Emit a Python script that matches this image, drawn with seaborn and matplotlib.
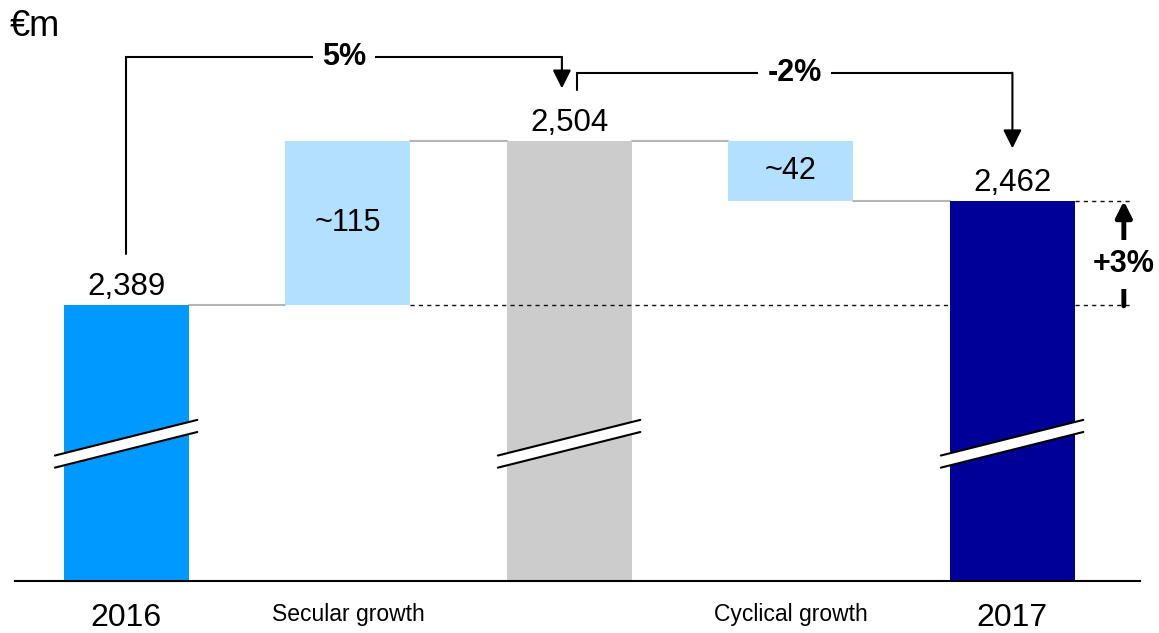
import matplotlib
matplotlib.use("Agg")
import matplotlib.pyplot as plt
import seaborn as sns
import pandas as pd

# chart data
steps = ["2016", "Secular growth", "Subtotal", "Cyclical growth", "2017"]
tick_labels = ["2016", "Secular growth", "", "Cyclical growth", "2017"]
total_steps = ["2016", "Subtotal", "2017"]
total_values = [2389, 2504, 2462]
total_labels = ["2,389", "2,504", "2,462"]
delta_steps = ["Secular growth", "Cyclical growth"]
delta_values = [115, -42]
delta_labels = ["~115", "~42"]
bracket_labels = ["5%", "-2%"]
overall_label = "+3%"
unit_label = "€m"

bar_colors = {"2016": "#0099FF", "Subtotal": "#CCCCCC", "2017": "#000099"}
delta_color = "#B3E0FF"
connector_color = "#B5B5B5"
BAR_W = 0.565
HALF = BAR_W / 2


def main():
    sns.set_style("white")
    plt.rcParams["font.family"] = ["Liberation Sans", "DejaVu Sans"]
    plt.rcParams["text.color"] = "black"
    plt.rcParams["xtick.color"] = "black"
    plt.rcParams["xtick.labelcolor"] = "black"

    fig = plt.figure(figsize=(11.59, 6.33), dpi=100)
    ax = fig.add_axes([15 / 1159, 1 - 581 / 633, 1125 / 1159, 581 / 633])

    df = pd.DataFrame({"step": total_steps, "value": total_values})
    sns.barplot(data=df, x="step", y="value", hue="step", order=steps,
                palette=bar_colors, width=BAR_W, saturation=1, legend=False,
                linewidth=0, ax=ax, zorder=2)

    ax.set_ylim(2195.5, 2603)
    ax.set_xlim(-0.503, 4.576)

    # floating bars for the growth steps
    pos = {s: i for i, s in enumerate(steps)}
    level = total_values[0]
    for name, d, lab in zip(delta_steps, delta_values, delta_labels):
        x = pos[name]
        bottom = level if d > 0 else level + d
        ax.bar(x, abs(d), bottom=bottom, width=BAR_W, color=delta_color,
               linewidth=0, zorder=2)
        ax.text(x, bottom + abs(d) / 2, lab, ha="center", va="center",
                fontsize=22, zorder=5)
        # grey connectors into and out of the step
        ax.plot([x - 1 + HALF, x - HALF], [level, level], color=connector_color,
                lw=1.5, zorder=1)
        level = level + d
        ax.plot([x + HALF, x + 1 - HALF], [level, level], color=connector_color,
                lw=1.5, zorder=1)

    # value labels on top of totals
    for name, v, lab in zip(total_steps, total_values, total_labels):
        ax.annotate(lab, xy=(pos[name], v), xytext=(0, 7), textcoords="offset points",
                    ha="center", va="baseline", fontsize=22.5)

    # axis break marks on totals
    for name in total_steps:
        c = pos[name]
        xs = [c - 0.323, c + 0.32]
        lo = [2275, 2300]
        hi = [2283.5, 2308.5]
        ax.fill([xs[0], xs[1], xs[1], xs[0]], [lo[0], lo[1], hi[1], hi[0]],
                color="white", zorder=3, lw=0)
        ax.plot(xs, lo, color="black", lw=1.5, zorder=4)
        ax.plot(xs, hi, color="black", lw=1.5, zorder=4)

    # dashed reference lines for 2016 -> 2017 comparison
    first, last = total_values[0], total_values[-1]
    x_last = pos[total_steps[-1]]
    dash = dict(color="#111111", lw=1, ls=(0, (3, 3)), zorder=2.5)
    ax.plot([pos["Secular growth"] + HALF, x_last - HALF], [first, first], **dash)
    ax.plot([x_last + HALF, 4.53], [first, first], **dash)
    ax.plot([x_last + HALF, 4.53], [last, last], **dash)

    # overall +3% arrow
    xa = 4.503
    ax.annotate("", xy=(xa, last), xytext=(xa, first - 0.5),
                arrowprops=dict(arrowstyle="-|>", lw=3.5, color="black",
                                mutation_scale=24, shrinkA=0, shrinkB=0))
    ax.text(xa, (first + last) / 2 - 8, overall_label, ha="center", va="center",
            fontsize=22, fontweight="bold", zorder=6,
            bbox=dict(boxstyle="square,pad=0.3", fc="white", ec="none"))

    # percentage brackets between totals
    brackets = [
        (pos["2016"], total_values[0], pos["Subtotal"] - 0.034, total_values[1], 2563),
        (pos["Subtotal"] + 0.034, total_values[1], pos["2017"], total_values[2], 2552),
    ]
    for (x0, v0, x1, v1, ytop), lab in zip(brackets, bracket_labels):
        ax.plot([x0, x0, x1], [v0 + 36, ytop, ytop], color="black", lw=1.5,
                solid_joinstyle="miter", zorder=4)
        ax.annotate("", xy=(x1, v1 + 37), xytext=(x1, ytop),
                    arrowprops=dict(arrowstyle="-|>", lw=1.5, color="black",
                                    mutation_scale=28, shrinkA=0, shrinkB=0))
        ax.text((x0 + x1) / 2, ytop, lab, ha="center", va="center", fontsize=22,
                fontweight="bold", zorder=6,
                bbox=dict(boxstyle="square,pad=0.3", fc="white", ec="none"))

    # axes styling
    sns.despine(ax=ax, left=True)
    ax.spines["bottom"].set_color("black")
    ax.spines["bottom"].set_linewidth(1.5)
    ax.set_yticks([])
    ax.set_xticks(range(len(steps)))
    ax.set_xticklabels(tick_labels)
    for t in ax.get_xticklabels():
        t.set_fontsize(23 if t.get_text()[:2] == "20" else 16.5)
    ax.tick_params(axis="x", length=0, pad=16)
    ax.set_xlabel("")
    ax.set_ylabel("")

    fig.text(10 / 1159, 1 - 27 / 633, unit_label, va="center", ha="left", fontsize=26)

    fig.savefig("out.png", dpi=100)
    plt.close(fig)


if __name__ == "__main__":
    main()
